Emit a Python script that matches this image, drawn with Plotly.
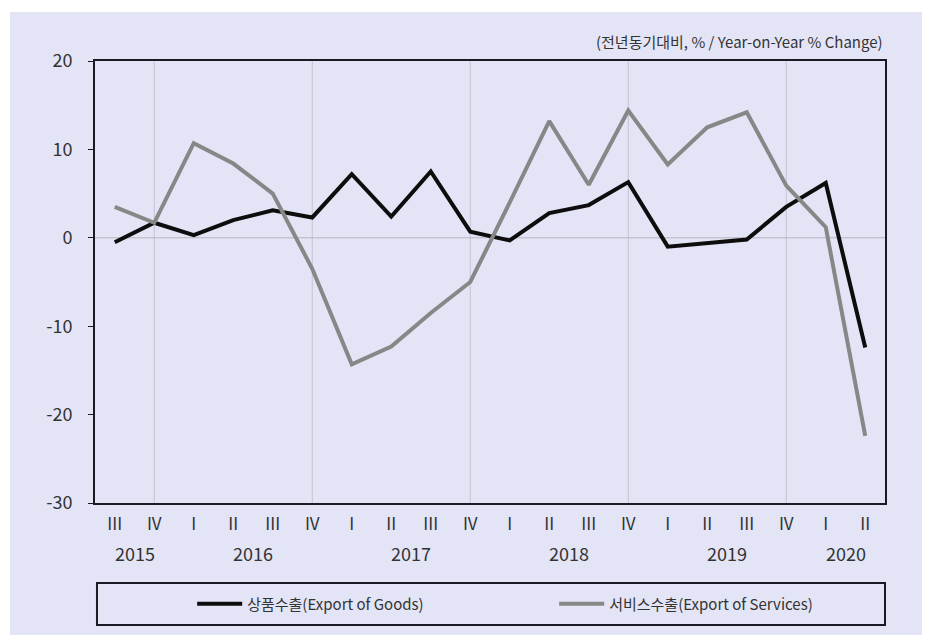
import plotly.graph_objects as go

quarters = ["III", "IV", "I", "II", "III", "IV", "I", "II", "III", "IV",
            "I", "II", "III", "IV", "I", "II", "III", "IV", "I", "II"]
years = [2015, 2015, 2016, 2016, 2016, 2016, 2017, 2017, 2017, 2017,
         2018, 2018, 2018, 2018, 2019, 2019, 2019, 2019, 2020, 2020]
goods = [-0.5, 1.7, 0.3, 2.0, 3.1, 2.3, 7.2, 2.4, 7.5, 0.7,
         -0.3, 2.8, 3.7, 6.3, -1.0, -0.6, -0.2, 3.5, 6.2, -12.4]
services = [3.5, 1.7, 10.7, 8.4, 5.0, -3.5, -14.3, -12.3, -8.5, -5.0,
            4.0, 13.2, 6.0, 14.4, 8.3, 12.5, 14.2, 5.9, 1.2, -22.4]
y_ticks = [-30, -20, -10, 0, 10, 20]
y_tick_text = ["-30", "-20", "-10", "0", "10", "20"]
series_names = ["상품수출(Export of Goods)", "서비스수출(Export of Services)"]
unit_label = "(전년동기대비, % / Year-on-Year % Change)"

FONT = "Noto Sans CJK KR"
x = list(range(len(quarters)))

fig = go.Figure()
fig.add_trace(go.Scatter(x=x, y=goods, mode="lines", name=series_names[0],
                         line=dict(color="#0d0d0d", width=4)))
fig.add_trace(go.Scatter(x=x, y=services, mode="lines", name=series_names[1],
                         line=dict(color="#878787", width=4)))

shapes = []
# lavender background panel
shapes.append(dict(type="rect", xref="paper", yref="paper", x0=-0.1076, x1=1.08,
                   y0=-0.32, y1=1.111, fillcolor="#e3e5f6", line=dict(width=0), layer="below"))
# vertical separators at each Q4
for i, q in enumerate(quarters):
    if q == "IV":
        shapes.append(dict(type="line", xref="x", yref="paper", x0=i, x1=i, y0=0, y1=1,
                           line=dict(color="#c2c4d0", width=1), layer="below"))
shapes.append(dict(type="line", xref="paper", yref="y", x0=0, x1=1, y0=0, y1=0,
                   line=dict(color="#b5b6bf", width=1), layer="below"))
# legend box
shapes.append(dict(type="rect", xref="paper", yref="paper", x0=0.0025, x1=1.0,
                   y0=-0.276, y1=-0.181, line=dict(color="#1a1a24", width=2)))

annotations = []
uniq_years = []
for y in years:
    if y not in uniq_years:
        uniq_years.append(y)
for yr in uniq_years:
    idx = [i for i, v in enumerate(years) if v == yr]
    annotations.append(dict(x=sum(idx) / len(idx), y=-0.112, xref="x", yref="paper",
                            text=str(yr), showarrow=False, xanchor="center", yanchor="middle",
                            font=dict(family=FONT, size=18, color="#333333")))
annotations.append(dict(x=1.0, y=1.043, xref="paper", yref="paper", text=unit_label,
                        showarrow=False, xanchor="right", yanchor="middle",
                        font=dict(family=FONT, size=15, color="#333333")))

fig.update_layout(
    width=922, height=627,
    margin=dict(l=87, r=45, t=53, b=132),
    paper_bgcolor="white", plot_bgcolor="rgba(0,0,0,0)",
    font=dict(family=FONT, color="#333333"),
    shapes=shapes, annotations=annotations,
    showlegend=True,
    legend=dict(orientation="h", x=0.123, xanchor="left", y=-0.2285, yanchor="middle",
                bgcolor="rgba(0,0,0,0)", font=dict(family=FONT, size=15, color="#333333"),
                itemwidth=45, entrywidth=302),
    xaxis=dict(range=[-0.5, 19.5], tickmode="array", tickvals=x, ticktext=quarters,
               showgrid=False, zeroline=False, showline=True, mirror=True,
               linecolor="#1a1a24", linewidth=2, ticks="", ticklabelstandoff=5,
               tickfont=dict(family=FONT, size=17, color="#333333")),
    yaxis=dict(range=[-30, 20], tickmode="array", tickvals=y_ticks, ticktext=y_tick_text,
               showgrid=False, zeroline=False, showline=True, mirror=True,
               linecolor="#1a1a24", linewidth=2,
               ticks="outside", ticklen=5, tickcolor="#1a1a24", ticklabelstandoff=12,
               tickfont=dict(family=FONT, size=18, color="#333333")),
)

fig.write_html("out.html")
